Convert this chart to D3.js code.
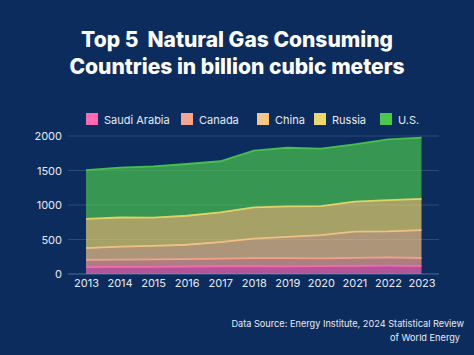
<!DOCTYPE html>
<html><head><meta charset="utf-8">
<script src="https://cdn.jsdelivr.net/npm/d3@7"></script>
<style>html,body{margin:0;padding:0;background:#0c2c5e;}svg{display:block;}</style>
</head><body>
<svg id="chart" width="474" height="355"></svg>
<script>
const years = [2013,2014,2015,2016,2017,2018,2019,2020,2021,2022,2023];
const seriesNames = ["Saudi Arabia","Canada","China","Russia","U.S."];
const saudiArabia = [100,102,104,109,112,112,111,113,117,120,114];
const canada      = [104,107,108,106,110,117,118,113,118,122,118];
const china       = [171,188,195,209,241,283,308,336,380,376,405];
const russia      = [424,422,409,420,431,454,444,423,433,453,453];
const us          = [707,722,743,750,740,821,849,832,831,880,887];
const yTicks = [0,500,1000,1500,2000];
const colors = ["#ff69b4","#f7a58f","#f9c784","#efd86b","#4cc94c"];

const svg = d3.select("#chart");
svg.append("rect").attr("width",474).attr("height",355).attr("fill","#0c2c5e");

const font = "Inter, 'Open Sans', sans-serif";
svg.append("text").attr("x",237).attr("y",47).attr("text-anchor","middle").style("white-space","pre")
  .attr("font-family",font).attr("font-weight",800).attr("font-size",21).attr("fill","#fff")
  .text("Top 5  Natural Gas Consuming");
svg.append("text").attr("x",237).attr("y",74).attr("text-anchor","middle")
  .attr("font-family",font).attr("font-weight",800).attr("font-size",21).attr("fill","#fff")
  .text("Countries in billion cubic meters");

const data = years.map((y,i)=>({year:y, "Saudi Arabia":saudiArabia[i], "Canada":canada[i], "China":china[i], "Russia":russia[i], "U.S.":us[i]}));
const stack = d3.stack().keys(seriesNames)(data);

const x = d3.scaleLinear().domain([2013,2023]).range([86,421.5]);
const y = d3.scaleLinear().domain([0,2000]).range([274,136]);

const grid = svg.append("g");
yTicks.forEach(t=>{
  grid.append("line").attr("x1",68).attr("x2",439).attr("y1",y(t)).attr("y2",y(t))
    .attr("stroke", t===0 ? "#4a6a95" : "#2a4a7a").attr("stroke-width",1);
});

const area = d3.area().x(d=>x(d.data.year)).y0(d=>y(d[0])).y1(d=>y(d[1]));
const line = d3.line().x(d=>x(d.data.year)).y(d=>y(d[1]));
stack.forEach((s,i)=>{
  svg.append("path").datum(s).attr("d",area).attr("fill",colors[i]).attr("fill-opacity",0.68);
});
stack.forEach((s,i)=>{
  svg.append("path").datum(s).attr("d",line).attr("fill","none").attr("stroke",colors[i]).attr("stroke-width",1.8).attr("stroke-opacity",0.9);
});

const yAxis = d3.axisLeft(y).tickValues(yTicks).tickFormat(d3.format("d")).tickSize(0).tickPadding(0);
const ya = svg.append("g").attr("transform","translate(62,0)").call(yAxis);
ya.select(".domain").remove();
ya.selectAll("text").attr("font-family",font).attr("font-size",11).attr("fill","#e6ebf2");

const xAxis = d3.axisBottom(x).tickValues(years).tickFormat(d3.format("d")).tickSize(0).tickPadding(0);
const xa = svg.append("g").attr("transform","translate(0,279)").call(xAxis);
xa.select(".domain").remove();
xa.selectAll("text").attr("font-family",font).attr("font-size",11).attr("fill","#e6ebf2");

const legendX = [86,181,257,314,380];
seriesNames.forEach((n,i)=>{
  const g = svg.append("g").attr("transform",`translate(${legendX[i]},113)`);
  g.append("rect").attr("width",12).attr("height",12).attr("fill",colors[i]);
  g.append("text").attr("x",18).attr("y",10.5).attr("font-family",font).attr("font-size",11)
    .attr("fill","#e6ebf2").text(n);
});

svg.append("text").attr("x",464).attr("y",327).attr("text-anchor","end").attr("font-family",font)
  .attr("font-size",9.2).attr("fill","#e6ebf2").text("Data Source: Energy Institute, 2024 Statistical Review");
svg.append("text").attr("x",460).attr("y",341).attr("text-anchor","end").attr("font-family",font)
  .attr("font-size",9.2).attr("fill","#e6ebf2").text("of World Energy");
</script>
</body></html>
